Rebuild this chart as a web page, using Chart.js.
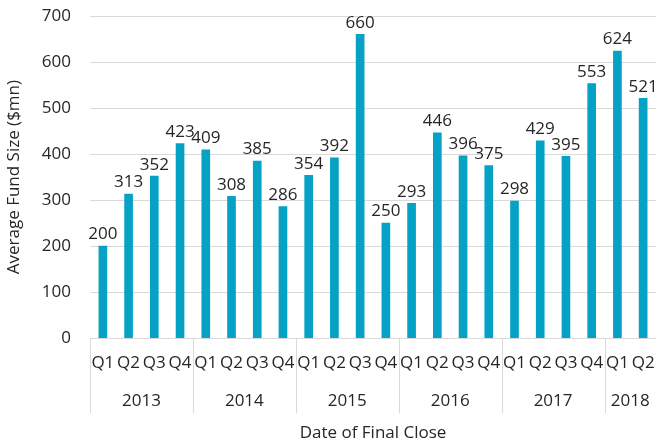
<!DOCTYPE html>
<html>
<head>
<meta charset="utf-8">
<script src="https://cdn.jsdelivr.net/npm/chart.js@4/dist/chart.umd.min.js"></script>
<style>
html,body{margin:0;padding:0;background:#fff;}
#wrap{width:656px;height:443px;position:relative;}
</style>
</head>
<body>
<div id="wrap"><canvas id="c" width="656" height="443"></canvas></div>
<script>
const quarters = ['Q1','Q2','Q3','Q4','Q1','Q2','Q3','Q4','Q1','Q2','Q3','Q4','Q1','Q2','Q3','Q4','Q1','Q2','Q3','Q4','Q1','Q2'];
const years = ['2013','2014','2015','2016','2017','2018'];
const yearSizes = [4,4,4,4,4,2];
const fundSize = [200,313,352,423,409,308,385,286,354,392,660,250,293,446,396,375,298,429,395,553,624,521];
const yTicks = [0,100,200,300,400,500,600,700];

const FONT = "'Open Sans', 'Noto Sans', sans-serif";
const TXT = '#262626';
const FS = 17;

const extras = {
  id: 'extras',
  afterDatasetsDraw(chart) {
    const ctx = chart.ctx;
    const meta = chart.getDatasetMeta(0);
    ctx.save();
    ctx.font = FS + 'px ' + FONT;
    ctx.fillStyle = TXT;
    ctx.textAlign = 'center';
    ctx.textBaseline = 'bottom';
    meta.data.forEach((bar, i) => {
      ctx.fillText(String(fundSize[i]), bar.x, bar.y - 3);
    });
    ctx.restore();
  },
  afterDraw(chart) {
    const ctx = chart.ctx;
    const x = chart.scales.x;
    const area = chart.chartArea;
    const half = (x.getPixelForValue(1) - x.getPixelForValue(0)) / 2;
    ctx.save();
    ctx.strokeStyle = '#d9d9d9';
    ctx.lineWidth = 1;
    ctx.font = FS + 'px ' + FONT;
    ctx.fillStyle = TXT;
    ctx.textAlign = 'center';
    ctx.textBaseline = 'middle';
    let start = 0;
    years.forEach((y, k) => {
      const end = start + yearSizes[k] - 1;
      const left = x.getPixelForValue(start) - half;
      const right = x.getPixelForValue(end) + half;
      [left, right].forEach(px => {
        const p = Math.round(px) + 0.5;
        ctx.beginPath();
        ctx.moveTo(p, area.bottom);
        ctx.lineTo(p, area.bottom + 75);
        ctx.stroke();
      });
      ctx.fillText(y, (left + right) / 2, area.bottom + 63);
      start = end + 1;
    });
    ctx.restore();
  }
};

new Chart(document.getElementById('c'), {
  type: 'bar',
  data: {
    labels: quarters,
    datasets: [{
      data: fundSize,
      backgroundColor: '#05a2c6',
      barThickness: 8
    }]
  },
  options: {
    responsive: false,
    animation: false,
    devicePixelRatio: 1,
    layout: { padding: { top: 16, right: 0, left: 0, bottom: 0 } },
    plugins: { legend: { display: false }, tooltip: { enabled: false } },
    scales: {
      x: {
        afterFit(scale) { scale.paddingLeft = 0; scale.paddingRight = 0; },
        grid: { display: false, drawTicks: false },
        border: { display: false },
        ticks: { color: TXT, font: { size: FS, family: FONT }, padding: 15, maxRotation: 0, autoSkip: false },
        title: { display: true, text: 'Date of Final Close', color: TXT, font: { size: FS, family: FONT }, padding: { top: 34, bottom: 0 } }
      },
      y: {
        min: 0, max: 700,
        afterBuildTicks(scale) { scale.ticks = yTicks.map(v => ({ value: v })); },
        afterFit(scale) { scale.width = 90; scale.paddingTop = 0; scale.paddingBottom = 0; },
        grid: { color: '#d9d9d9', drawTicks: false },
        border: { display: false },
        ticks: { color: TXT, font: { size: FS, family: FONT }, padding: 19 },
        title: { display: true, text: 'Average Fund Size ($mn)', color: TXT, font: { size: FS, family: FONT }, padding: { top: 4, bottom: 0 } }
      }
    }
  },
  plugins: [extras]
});
</script>
</body>
</html>
